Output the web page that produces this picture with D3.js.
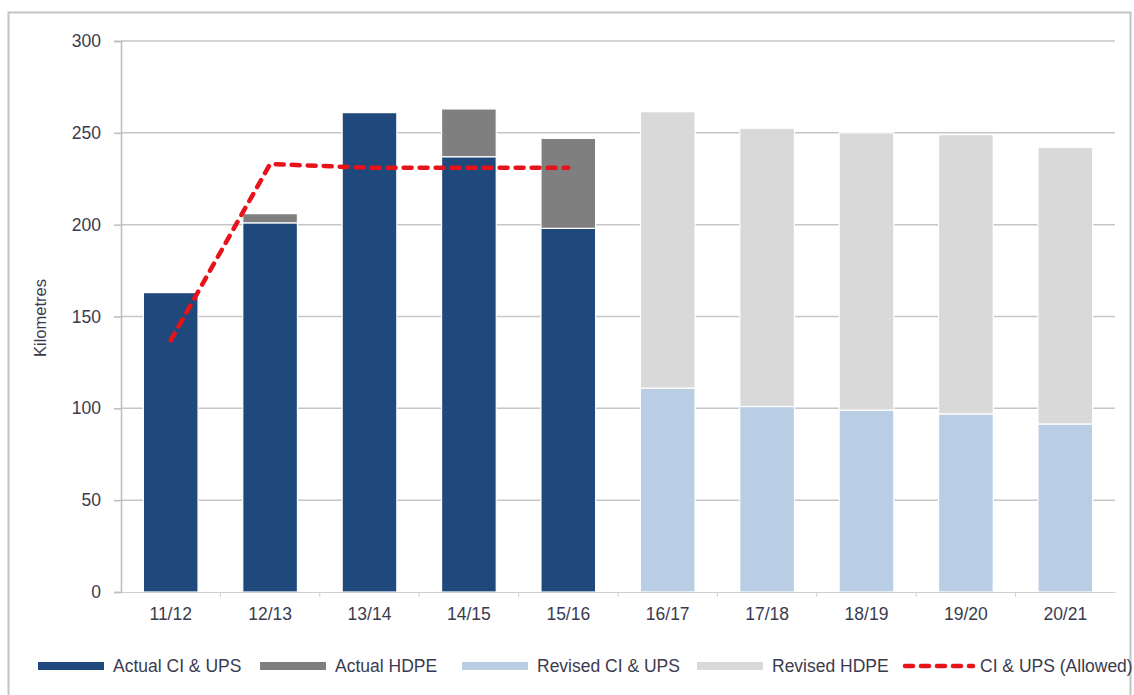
<!DOCTYPE html>
<html>
<head>
  <meta charset="utf-8">
  <script src="https://d3js.org/d3.v7.min.js"></script>
  <style>
    body { margin: 0; background: #fff; }
    svg text { font-family: "Liberation Sans", Arial, sans-serif; fill: #3b3b4f; }
  </style>
</head>
<body>
  <svg id="chart"></svg>
  <script>
    // data (kilometres)
    let years = ["11/12", "12/13", "13/14", "14/15", "15/16", "16/17", "17/18", "18/19", "19/20", "20/21"];
    let actualCI = [163, 201, 261, 237, 198, 0, 0, 0, 0, 0];
    let actualHDPE = [0, 5, 0, 26, 49, 0, 0, 0, 0, 0];
    let revisedCI = [0, 0, 0, 0, 0, 111, 101, 99, 97, 91.5];
    let revisedHDPE = [0, 0, 0, 0, 0, 150.5, 151.5, 151, 152, 150.5];
    let allowed = [137, 233, 231, 231, 231];
    let yTicks = [0, 50, 100, 150, 200, 250, 300];

    let keys = ["actualCI", "actualHDPE", "revisedCI", "revisedHDPE"];
    let labels = {
      actualCI: "Actual CI & UPS",
      actualHDPE: "Actual HDPE",
      revisedCI: "Revised CI & UPS",
      revisedHDPE: "Revised HDPE"
    };
    let colors = {
      actualCI: "#1f497d",
      actualHDPE: "#7f7f7f",
      revisedCI: "#b9cde5",
      revisedHDPE: "#d9d9d9"
    };

    let width = 1134, height = 695;
    let svg = d3.select("#chart").attr("width", width).attr("height", height);

    // outer frame
    svg.append("rect")
      .attr("x", 8.5).attr("y", 12.5)
      .attr("width", 1122).attr("height", 700)
      .attr("fill", "none")
      .attr("stroke", "#c4c4c4")
      .attr("stroke-width", 2);

    // scales
    let x = d3.scaleBand().domain(years).range([121, 1115])
      .paddingInner(0.45).paddingOuter(0.225);
    let y = d3.scaleLinear().domain([0, 300]).range([592, 41]);

    // gridlines
    svg.append("g")
      .selectAll("line")
      .data(yTicks.filter(d => d > 0))
      .join("line")
      .attr("x1", 121).attr("x2", 1115)
      .attr("y1", d => y(d)).attr("y2", d => y(d))
      .attr("stroke", "#c6c6c6")
      .attr("stroke-width", 1.5);

    // stacked bars
    let table = years.map((yr, i) => ({
      year: yr,
      actualCI: actualCI[i],
      actualHDPE: actualHDPE[i],
      revisedCI: revisedCI[i],
      revisedHDPE: revisedHDPE[i]
    }));
    let stacked = d3.stack().keys(keys)(table);

    svg.append("g")
      .selectAll("g")
      .data(stacked)
      .join("g")
      .attr("fill", d => colors[d.key])
      .selectAll("rect")
      .data(d => d.filter(s => s[1] - s[0] > 0))
      .join("rect")
      .attr("x", d => x(d.data.year))
      .attr("width", x.bandwidth())
      .attr("y", d => y(d[1]))
      .attr("height", d => y(d[0]) - y(d[1]))
      .attr("stroke", "#fff")
      .attr("stroke-width", 1.2);

    // y axis
    let yAxis = svg.append("g")
      .attr("transform", "translate(121,0)")
      .call(d3.axisLeft(y).tickValues(yTicks).tickSize(7).tickPadding(13));
    yAxis.select(".domain").attr("stroke", "#bdbdbd").attr("stroke-width", 1.5);
    yAxis.selectAll(".tick line").attr("stroke", "#bdbdbd").attr("stroke-width", 1.5);
    yAxis.selectAll("text").attr("font-size", 17.5).attr("fill", "#3b3b4f");

    // x axis
    let xAxis = svg.append("g")
      .attr("transform", "translate(0,592)")
      .call(d3.axisBottom(x).tickSize(0).tickPadding(16));
    xAxis.select(".domain").attr("stroke", "#cfcfcf").attr("stroke-width", 1.2);
    xAxis.selectAll("text").attr("font-size", 17.5).attr("fill", "#3b3b4f");

    // small marks between categories
    svg.append("g")
      .selectAll("line")
      .data(years.slice(1))
      .join("line")
      .attr("x1", d => x(d) - x.step() * x.paddingInner() / 2)
      .attr("x2", d => x(d) - x.step() * x.paddingInner() / 2)
      .attr("y1", 592).attr("y2", 597)
      .attr("stroke", "#cfcfcf")
      .attr("stroke-width", 1);

    // y title
    svg.append("text")
      .attr("transform", "translate(46,318) rotate(-90)")
      .attr("text-anchor", "middle")
      .attr("font-size", 16.5)
      .text("Kilometres");

    // allowed line
    let line = d3.line()
      .x((d, i) => x(years[i]) + x.bandwidth() / 2)
      .y(d => y(d));

    svg.append("path")
      .datum(allowed)
      .attr("d", line)
      .attr("fill", "none")
      .attr("stroke", "#e8131a")
      .attr("stroke-width", 4.5)
      .attr("stroke-linecap", "round")
      .attr("stroke-dasharray", "8,8");

    // legend
    let legendX = [38, 260, 462, 697, 903];
    let legend = svg.append("g").attr("transform", "translate(0,666)");

    keys.forEach((k, i) => {
      legend.append("rect")
        .attr("x", legendX[i]).attr("y", -4)
        .attr("width", 66).attr("height", 8)
        .attr("fill", colors[k]);
      legend.append("text")
        .attr("x", legendX[i] + 75).attr("y", 0)
        .attr("dy", "0.35em")
        .attr("font-size", 17.5)
        .text(labels[k]);
    });

    legend.append("line")
      .attr("x1", legendX[4] + 2).attr("x2", legendX[4] + 70)
      .attr("y1", 0).attr("y2", 0)
      .attr("stroke", "#e8131a")
      .attr("stroke-width", 4.5)
      .attr("stroke-linecap", "round")
      .attr("stroke-dasharray", "8,8");
    legend.append("text")
      .attr("x", legendX[4] + 77).attr("y", 0)
      .attr("dy", "0.35em")
      .attr("font-size", 17.5)
      .text("CI & UPS (Allowed)");
  </script>
</body>
</html>
